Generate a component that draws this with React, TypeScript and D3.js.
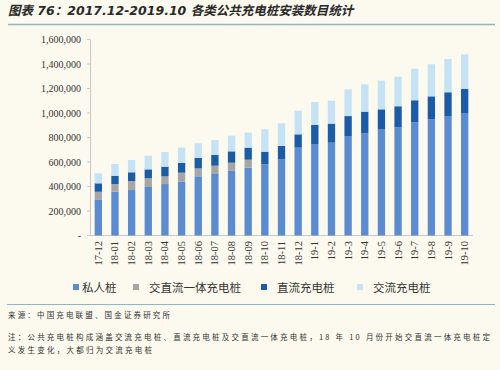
import React from "react";
import * as d3 from "d3";

const categories = ["17-12","18-01","18-02","18-03","18-04","18-05","18-06","18-07","18-08","18-09","18-10","18-11","18-12","19-1","19-2","19-3","19-4","19-5","19-6","19-7","19-8","19-9","19-10"];
const privatePiles = [295000,357000,371000,396000,420000,439000,483000,508000,527000,553000,581000,622000,717000,747000,758000,812000,834000,869000,883000,924000,949000,975000,1000000];
const acdcPiles = [62000,63000,74000,71000,63000,74000,65000,62000,67000,66000,0,0,0,0,0,0,0,0,0,0,0,0,0];
const dcPiles = [69000,68000,71000,73000,79000,81000,85000,87000,93000,98000,103000,109000,109000,155000,155000,163000,177000,161000,172000,180000,187000,194000,198000];
const acPiles = [82000,96000,100000,111000,120000,123000,120000,123000,128000,122000,183000,185000,193000,188000,187000,218000,223000,234000,241000,258000,262000,272000,281000];
const seriesNames = ["私人桩","交直流一体充电桩","直流充电桩","交流充电桩"];
const yTicks = [0,200000,400000,600000,800000,1000000,1200000,1400000,1600000];
const colors = ["#5b8bd0","#a6a6a6","#1a5ca8","#c6e3f5"];

export default function App() {
  const W = 500, H = 370;
  const x = d3.scaleBand<string>().domain(categories).range([90, 473]).paddingInner(0.56).paddingOuter(0.28);
  const y = d3.scaleLinear().domain([0, 1600000]).range([235.5, 39.5]);
  const rows = categories.map((c, i) => ({ c, s0: privatePiles[i], s1: acdcPiles[i], s2: dcPiles[i], s3: acPiles[i] }));
  const stack = d3.stack<any>().keys(["s0","s1","s2","s3"]);
  const layers = stack(rows);
  const fmt = d3.format(",");
  const legendX = [73, 133, 261, 357];
  const noteFont = "'Noto Sans CJK SC', sans-serif";
  return (
    <svg width={W} height={H} style={{ position: "absolute", left: 0, top: 0, background: "#fcf9ee" }}>
      <rect x={0} y={0} width={W} height={H} fill="#fcf9ee" />
      <text x={8} y={15} fontFamily="'DejaVu Sans', 'Noto Sans CJK SC', sans-serif" fontSize={12.5} fontWeight="bold" fontStyle="italic" fill="#2a2a2a">
        图表 76：2017.12-2019.10 各类公共充电桩安装数目统计
      </text>
      <line x1={8} x2={495} y1={24.5} y2={24.5} stroke="#8fb6c6" strokeWidth={1.5} />
      <line x1={90.5} x2={90.5} y1={y(1600000)} y2={y(0)} stroke="#c8c8c8" />
      {yTicks.map((t) => (
        <g key={t}>
          <line x1={87} x2={90.5} y1={y(t)} y2={y(t)} stroke="#c8c8c8" />
          <text x={81} y={y(t)} dy="0.35em" textAnchor="end" fontFamily="'Liberation Serif', serif" fontSize={10} fill="#333">
            {t === 0 ? "-" : fmt(t)}
          </text>
        </g>
      ))}
      <line x1={90.5} x2={473} y1={235.5} y2={235.5} stroke="#c8c8c8" />
      {layers.map((layer, li) => (
        <g key={li} fill={colors[li]}>
          {layer.map((d, i) => (
            d[1] - d[0] > 0 ? (
              <rect key={i} x={x(categories[i])} width={x.bandwidth()} y={y(d[1])} height={y(d[0]) - y(d[1])} />
            ) : null
          ))}
        </g>
      ))}
      {categories.map((c) => {
        const cx = (x(c) as number) + x.bandwidth() / 2;
        return (
          <text key={c} transform={`translate(${cx + 3.5},241) rotate(-90)`} textAnchor="end" fontFamily="'Liberation Serif', serif" fontSize={10.5} fill="#333">
            {c}
          </text>
        );
      })}
      {seriesNames.map((n, i) => (
        <g key={n}>
          <rect x={legendX[i]} y={284} width={6} height={6} fill={colors[i]} />
          <text x={legendX[i] + (i === 0 ? 9 : 16)} y={291.5} fontFamily="'Noto Sans CJK SC', sans-serif" fontSize={11.5} fill="#333">{n}</text>
        </g>
      ))}
      <line x1={7} x2={495} y1={304.5} y2={304.5} stroke="#8fb6c6" strokeWidth={1.2} />
      <text x={8} y={318} fontFamily={noteFont} fontSize={7.5} fill="#333" textLength={162} lengthAdjust="spacing">来源：中国充电联盟、国金证券研究所</text>
      <text x={8} y={340} fontFamily={noteFont} fontSize={7.5} fill="#333" textLength={482} lengthAdjust="spacing">注：公共充电桩构成涵盖交流充电桩、直流充电桩及交直流一体充电桩，18 年 10 月份开始交直流一体充电桩定</text>
      <text x={8} y={353} fontFamily={noteFont} fontSize={7.5} fill="#333" textLength={144} lengthAdjust="spacing">义发生变化，大都归为交流充电桩</text>
    </svg>
  );
}
